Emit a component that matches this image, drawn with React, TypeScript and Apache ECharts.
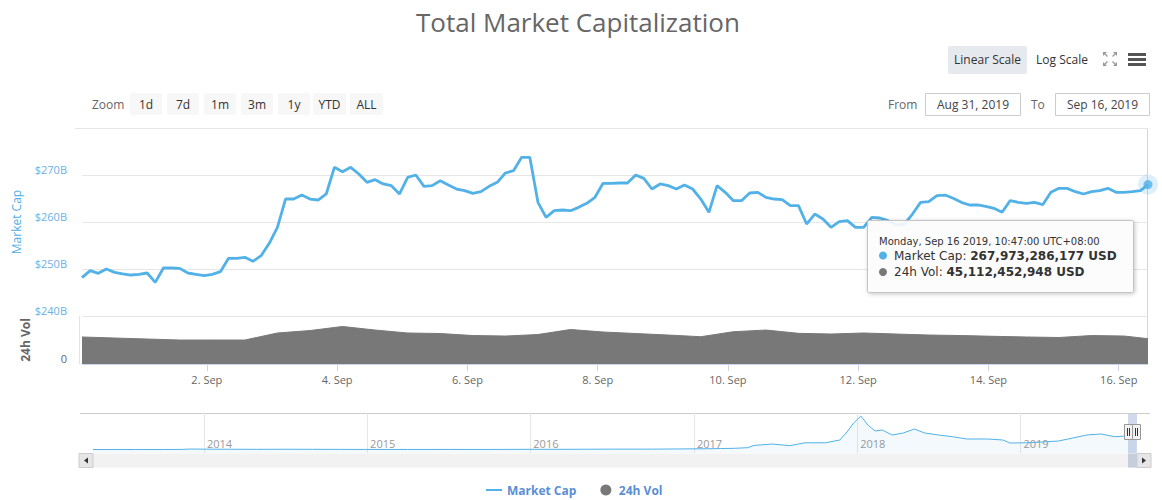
import React, { useEffect, useRef } from "react";
import * as echarts from "echarts";

const FONT = "'Open Sans', 'DejaVu Sans', sans-serif";
const TIP_FONT = "'DejaVu Sans', Verdana, sans-serif";
const HOUR = 3600 * 1000;

// ---- Main pane: total market cap (billions USD), 3-hour steps from Aug 31 02:00 ----
const MCAP_START = Date.UTC(2019, 7, 31, 2, 0);
const MCAP_STEP_HOURS = 3;
const LAST_TIME = Date.UTC(2019, 8, 16, 10, 47);
const MCAP_B = [
  248.16, 249.65, 249.08, 250.0, 249.29, 248.94, 248.72, 248.87, 249.15, 247.16,
  250.21, 250.21, 250.14, 249.15, 248.87, 248.58, 248.87, 249.43, 252.27, 252.27,
  252.48, 251.63, 252.84, 255.46, 258.87, 264.89, 264.89, 265.74, 264.89, 264.68,
  265.96, 271.63, 270.71, 271.63, 270.21, 268.44, 269.01, 268.09, 267.73, 265.96,
  269.5, 270.0, 267.59, 267.73, 268.79, 267.87, 267.02, 266.67, 266.1, 266.45,
  267.59, 268.44, 270.43, 270.92, 273.76, 273.76, 264.18, 260.99, 262.41, 262.55,
  262.41, 263.12, 263.97, 265.25, 268.23, 268.23, 268.3, 268.3, 270.0, 269.29,
  267.02, 268.09, 267.73, 267.02, 267.87, 267.02, 264.89, 262.06, 267.73, 266.31,
  264.54, 264.54, 266.17, 266.31, 265.25, 264.89, 264.75, 263.48, 263.48, 259.57,
  261.7, 260.64, 258.87, 260.07, 260.28, 258.87, 258.87, 260.99, 260.85, 260.28,
  259.36, 259.57, 261.7, 264.18, 264.33, 265.6, 265.74, 265.04, 264.18, 263.62,
  263.62, 263.33, 262.91, 262.06, 264.54, 264.18, 263.97, 264.18, 263.69, 266.31,
  267.16, 267.16, 266.45, 265.96, 266.45, 266.67, 267.16, 266.31, 266.31, 266.45,
  266.67, 267.97,
];

// ---- Volume pane: 24h volume (billions USD), 12-hour steps ----
const VOL_STEP_HOURS = 12;
const VOL_B = [
  48.1, 46.3, 44.5, 42.7, 42.7, 42.7, 55.2, 59.6, 66.8, 60.5, 55.2, 54.3, 50.7,
  49.8, 52.5, 61.4, 57.0, 54.3, 51.6, 48.6, 57.5, 60.5, 54.6, 53.4, 55.2, 53.4,
  51.6, 50.7, 49.3, 48.1, 47.2, 50.7, 49.8, 45.11,
];

// ---- Axis ticks ----
const DAY_TICK_DAYS = [2, 4, 6, 8, 10, 12, 14, 16];
const DAY_TICK_LABELS = ["2. Sep", "4. Sep", "6. Sep", "8. Sep", "10. Sep", "12. Sep", "14. Sep", "16. Sep"];
const MCAP_TICKS = [240, 250, 260, 270, 280];
const MCAP_TICK_LABELS = ["$240B", "$250B", "$260B", "$270B", ""];

// ---- Navigator: full history of market cap (billions USD) ----
const NAV_DATES = [
  "2013-04-28", "2013-06-01", "2013-08-01", "2013-10-01", "2013-11-15", "2013-12-01",
  "2014-01-01", "2014-03-01", "2014-05-01", "2014-07-01", "2014-09-01", "2014-11-01",
  "2015-01-01", "2015-04-01", "2015-07-01", "2015-10-01", "2016-01-01", "2016-04-01",
  "2016-07-01", "2016-10-01", "2017-01-01", "2017-02-01", "2017-03-01", "2017-04-01",
  "2017-05-01", "2017-05-15", "2017-06-25", "2017-08-03", "2017-09-06", "2017-10-22",
  "2017-11-23", "2017-12-09", "2017-12-24", "2018-01-09", "2018-01-25", "2018-02-10",
  "2018-02-26", "2018-03-20", "2018-04-14", "2018-05-09", "2018-06-01", "2018-07-02",
  "2018-08-02", "2018-09-03", "2018-10-20", "2018-11-23", "2018-12-09", "2019-01-23",
  "2019-03-27", "2019-04-28", "2019-05-29", "2019-06-30", "2019-07-31", "2019-08-25",
  "2019-09-16",
];
const NAV_B = [
  1.5, 1.3, 1.3, 1.7, 5, 13,
  10, 8, 6, 8, 6.5, 4.5,
  4, 3.5, 4, 3.5, 6.5, 7,
  11, 10.5, 18, 20, 25, 30,
  45, 98, 131, 92, 160, 160,
  225, 413, 625, 790, 578, 437,
  460, 343, 390, 484, 390, 343,
  303, 249, 249, 225, 155, 162,
  202, 272, 343, 367, 303, 320,
  320,
];
const NAV_YEARS = [2014, 2015, 2016, 2017, 2018, 2019];

// ---- Tooltip content ----
const TIP_TIME_LABEL = "Monday, Sep 16 2019, 10:47:00 UTC+08:00";
const TIP_MCAP_USD = 267973286177;
const TIP_VOL_USD = 45112452948;

const ZOOM_BUTTONS = ["1d", "7d", "1m", "3m", "1y", "YTD", "ALL"];
const FROM_DATE = "Aug 31, 2019";
const TO_DATE = "Sep 16, 2019";

const BLUE = "#52b1e7";
const VOL_GRAY = "#787878";

function textWidth(text: string, font: string) {
  const ctx = document.createElement("canvas").getContext("2d");
  if (!ctx) return text.length * 7;
  ctx.font = font;
  return ctx.measureText(text).width;
}

function buildOption() {
  const mcapData = MCAP_B.map((v, i) => [
    i === MCAP_B.length - 1 ? LAST_TIME : MCAP_START + i * MCAP_STEP_HOURS * HOUR,
    v,
  ]);
  const volData = VOL_B.map((v, i) => [
    i === VOL_B.length - 1 ? LAST_TIME : MCAP_START + i * VOL_STEP_HOURS * HOUR,
    v,
  ]);
  const navData = NAV_DATES.map((d, i) => {
    const [y, m, dd] = d.split("-").map(Number);
    return [Date.UTC(y, m - 1, dd), NAV_B[i]];
  });
  const dayTicks = DAY_TICK_DAYS.map((d) => Date.UTC(2019, 8, d));
  const yearTicks = NAV_YEARS.map((y) => Date.UTC(y, 0, 1));
  const last = mcapData[mcapData.length - 1];

  const g: any[] = [];
  // range selector
  g.push({ type: "text", x: 92, y: 104, style: { text: "Zoom", fill: "#666", font: `12px ${FONT}`, verticalAlign: "middle" } });
  const btnX = [130, 167, 204, 241, 278, 313, 350];
  ZOOM_BUTTONS.forEach((b, k) => {
    const w = b === "ALL" || b === "YTD" ? 33 : 32;
    g.push({ type: "rect", shape: { x: btnX[k], y: 93, width: w, height: 22, r: 2 }, style: { fill: "#f7f7f7" } });
    g.push({
      type: "text", x: btnX[k] + w / 2, y: 104,
      style: { text: b, fill: "#333", font: `12px ${FONT}`, align: "center", verticalAlign: "middle" },
    });
  });
  // scale buttons
  g.push({ type: "rect", shape: { x: 948, y: 46, width: 79, height: 28, r: 2 }, style: { fill: "#e6e9ee" } });
  g.push({ type: "text", x: 987.5, y: 59, style: { text: "Linear Scale", fill: "#333", font: `12px ${FONT}`, align: "center", verticalAlign: "middle" } });
  g.push({ type: "text", x: 1062, y: 59, style: { text: "Log Scale", fill: "#333", font: `12px ${FONT}`, align: "center", verticalAlign: "middle" } });
  // fullscreen icon: four small arrows pointing outward
  const fs = [
    { tip: [1103, 52], dx: 1, dy: 1 },
    { tip: [1117, 52], dx: -1, dy: 1 },
    { tip: [1103, 66], dx: 1, dy: -1 },
    { tip: [1117, 66], dx: -1, dy: -1 },
  ];
  fs.forEach(({ tip, dx, dy }) => {
    g.push({ type: "polygon", shape: { points: [tip, [tip[0] + 4 * dx, tip[1]], [tip[0], tip[1] + 4 * dy]] }, style: { fill: "#999" } });
    g.push({ type: "line", shape: { x1: tip[0] + 1.5 * dx, y1: tip[1] + 1.5 * dy, x2: tip[0] + 4.5 * dx, y2: tip[1] + 4.5 * dy }, style: { stroke: "#999", lineWidth: 1.2 } });
  });
  // hamburger
  [53, 58, 63].forEach((yy) => g.push({ type: "rect", shape: { x: 1128, y: yy, width: 18, height: 3 }, style: { fill: "#555" } }));
  // From / To
  g.push({ type: "text", x: 888, y: 104, style: { text: "From", fill: "#666", font: `12px ${FONT}`, verticalAlign: "middle" } });
  g.push({ type: "rect", shape: { x: 925.5, y: 93.5, width: 95, height: 22 }, style: { fill: "#fff", stroke: "#ccc", lineWidth: 1 } });
  g.push({ type: "text", x: 973, y: 104.5, style: { text: FROM_DATE, fill: "#444", font: `12px ${FONT}`, align: "center", verticalAlign: "middle" } });
  g.push({ type: "text", x: 1031, y: 104, style: { text: "To", fill: "#666", font: `12px ${FONT}`, verticalAlign: "middle" } });
  g.push({ type: "rect", shape: { x: 1055.5, y: 93.5, width: 94, height: 22 }, style: { fill: "#fff", stroke: "#ccc", lineWidth: 1 } });
  g.push({ type: "text", x: 1102.5, y: 104.5, style: { text: TO_DATE, fill: "#444", font: `12px ${FONT}`, align: "center", verticalAlign: "middle" } });
  // top separator
  g.push({ type: "line", shape: { x1: 75, y1: 128.5, x2: 1148, y2: 128.5 }, style: { stroke: "#e6e6e6", lineWidth: 1 } });
  // crosshair
  g.push({ type: "line", shape: { x1: 1147.5, y1: 129, x2: 1147.5, y2: 364 }, style: { stroke: "#ccd6eb", lineWidth: 1 } });
  // navigator outline
  g.push({ type: "line", shape: { x1: 80, y1: 413.5, x2: 1150, y2: 413.5 }, style: { stroke: "#cccccc", lineWidth: 1 } });
  // navigator mask + handles
  g.push({ type: "rect", z: 110, shape: { x: 1128, y: 414, width: 9, height: 39 }, style: { fill: "rgba(102,133,194,0.3)" } });
  [1124.5, 1132.5].forEach((hx) => {
    g.push({ type: "rect", z: 111, shape: { x: hx, y: 424.5, width: 8, height: 15 }, style: { fill: "#f2f2f2", stroke: "#999", lineWidth: 1 } });
    g.push({ type: "line", z: 112, shape: { x1: hx + 3, y1: 428, x2: hx + 3, y2: 436 }, style: { stroke: "#333", lineWidth: 1 } });
    g.push({ type: "line", z: 112, shape: { x1: hx + 5, y1: 428, x2: hx + 5, y2: 436 }, style: { stroke: "#333", lineWidth: 1 } });
  });
  // scrollbar
  g.push({ type: "rect", shape: { x: 79, y: 453.5, width: 1072, height: 14 }, style: { fill: "#f2f2f2" } });
  g.push({ type: "rect", shape: { x: 79, y: 453.5, width: 14, height: 14 }, style: { fill: "#e6e6e6", stroke: "#ccc", lineWidth: 1 } });
  g.push({ type: "rect", shape: { x: 1137, y: 453.5, width: 14, height: 14 }, style: { fill: "#e6e6e6", stroke: "#ccc", lineWidth: 1 } });
  g.push({ type: "polygon", shape: { points: [[84, 460.5], [88, 457.5], [88, 463.5]] }, style: { fill: "#333" } });
  g.push({ type: "polygon", shape: { points: [[1146, 460.5], [1142, 457.5], [1142, 463.5]] }, style: { fill: "#333" } });
  g.push({ type: "rect", shape: { x: 1128, y: 453.5, width: 9, height: 14 }, style: { fill: "#c6cddb" } });

  // tooltip (drawn above everything)
  const normFont = `12px ${TIP_FONT}`;
  const boldFont = `bold 12px ${TIP_FONT}`;
  const mcLabel = "Market Cap: ";
  const volLabel = "24h Vol: ";
  const mcW = textWidth(mcLabel, normFont);
  const volW = textWidth(volLabel, normFont);
  const TX = 867;
  const TY = 220;
  g.push({ type: "rect", z: 200, shape: { x: TX + 0.5, y: TY + 0.5, width: 266, height: 72, r: 2 }, style: { fill: "rgba(255,255,255,0.88)", stroke: "#c4c4c4", lineWidth: 1, shadowBlur: 4, shadowOffsetX: 1, shadowOffsetY: 1, shadowColor: "rgba(0,0,0,0.25)" } });
  g.push({ type: "text", z: 201, x: TX + 12, y: TY + 21, style: { text: TIP_TIME_LABEL, fill: "#333", font: `10px ${TIP_FONT}`, verticalAlign: "middle" } });
  g.push({ type: "circle", z: 201, shape: { cx: TX + 16, cy: TY + 35.5, r: 4 }, style: { fill: BLUE } });
  g.push({ type: "text", z: 201, x: TX + 27, y: TY + 35.5, style: { text: mcLabel, fill: "#333", font: normFont, verticalAlign: "middle" } });
  g.push({ type: "text", z: 201, x: TX + 27 + mcW, y: TY + 35.5, style: { text: `${TIP_MCAP_USD.toLocaleString("en-US")} USD`, fill: "#333", font: boldFont, verticalAlign: "middle" } });
  g.push({ type: "circle", z: 201, shape: { cx: TX + 16, cy: TY + 52, r: 4 }, style: { fill: VOL_GRAY } });
  g.push({ type: "text", z: 201, x: TX + 27, y: TY + 52, style: { text: volLabel, fill: "#333", font: normFont, verticalAlign: "middle" } });
  g.push({ type: "text", z: 201, x: TX + 27 + volW, y: TY + 52, style: { text: `${TIP_VOL_USD.toLocaleString("en-US")} USD`, fill: "#333", font: boldFont, verticalAlign: "middle" } });

  return {
    animation: false,
    backgroundColor: "#fff",
    textStyle: { fontFamily: FONT },
    title: {
      text: "Total Market Capitalization",
      left: 411,
      top: 4,
      textStyle: { fontSize: 26, fontWeight: "normal", color: "#666", fontFamily: FONT },
    },
    legend: {
      top: 479,
      left: 481,
      itemWidth: 16,
      itemHeight: 11,
      itemGap: 24,
      textStyle: { color: "#5b8ed6", fontWeight: "bold", fontSize: 12, fontFamily: FONT },
      data: [
        { name: "Market Cap", icon: "path://M0,0h0.01v11h-0.01z M0,4.5h16v2h-16z" },
        { name: "24h Vol", icon: "circle" },
      ],
    },
    grid: [
      { left: 82, top: 128, width: 1066, height: 188 },
      { left: 82, top: 316, width: 1066, height: 48 },
      { left: 93, top: 413, width: 1043, height: 40 },
    ],
    xAxis: [
      { type: "value", gridIndex: 0, min: MCAP_START, max: LAST_TIME, show: false, splitLine: { show: false } },
      {
        type: "value", gridIndex: 1, min: MCAP_START, max: LAST_TIME,
        axisLine: { show: true, lineStyle: { color: "#ccd6eb" } },
        axisTick: { show: true, length: 7, customValues: dayTicks, lineStyle: { color: "#ccd6eb" } },
        axisLabel: {
          customValues: dayTicks, color: "#666", fontSize: 11, margin: 10, fontFamily: FONT,
          formatter: (v: number) => {
            const k = dayTicks.indexOf(v);
            return k >= 0 ? DAY_TICK_LABELS[k] : "";
          },
        },
        splitLine: { show: false },
      },
      {
        type: "value", gridIndex: 2, min: Date.UTC(2013, 3, 28), max: LAST_TIME,
        axisLine: { show: false },
        axisTick: { show: false, customValues: yearTicks },
        splitLine: { show: true, lineStyle: { color: "#e6e6e6" } },
        axisLabel: {
          customValues: yearTicks, inside: true, align: "left", margin: 4, color: "#999", fontSize: 11, fontFamily: FONT,
          padding: [0, 0, 0, 3],
          formatter: (v: number) => {
            const k = yearTicks.indexOf(v);
            return k >= 0 ? String(NAV_YEARS[k]) : "";
          },
        },
      },
    ],
    yAxis: [
      {
        type: "value", gridIndex: 0, min: 240, max: 280, interval: 10,
        name: "Market Cap", nameLocation: "middle", nameRotate: 90, nameGap: 60,
        nameTextStyle: { color: "#52aee6", fontSize: 12, fontFamily: FONT },
        axisLine: { show: false }, axisTick: { show: false },
        axisLabel: {
          color: "#6cb0e6", fontSize: 11, margin: 15, verticalAlign: "bottom", fontFamily: FONT,
          formatter: (v: number) => {
            const k = MCAP_TICKS.indexOf(v);
            return k >= 0 ? MCAP_TICK_LABELS[k] : "";
          },
        },
        splitLine: { show: true, lineStyle: { color: "#e6e6e6" } },
      },
      {
        type: "value", gridIndex: 1, min: 0, max: 85.5, interval: 85.5, offset: 3,
        name: "24h Vol", nameLocation: "middle", nameRotate: 90, nameGap: 48,
        nameTextStyle: { color: "#666", fontSize: 12, fontWeight: "bold", fontFamily: FONT },
        axisLine: { show: true, lineStyle: { color: "#dfe5ef" } }, axisTick: { show: false },
        axisLabel: {
          color: "#666", fontSize: 11, margin: 12, verticalAlign: "bottom", fontFamily: FONT,
          formatter: (v: number) => (v === 0 ? "0" : ""),
        },
        splitLine: { show: false },
      },
      { type: "value", gridIndex: 2, min: -80, max: 860, show: false, splitLine: { show: false } },
    ],
    series: [
      {
        name: "24h Vol", type: "line", xAxisIndex: 1, yAxisIndex: 1, data: volData,
        showSymbol: false, color: VOL_GRAY, lineStyle: { width: 1, color: VOL_GRAY },
        areaStyle: { color: VOL_GRAY, opacity: 1 }, z: 2,
      },
      {
        name: "Market Cap", type: "line", xAxisIndex: 0, yAxisIndex: 0, data: mcapData,
        showSymbol: false, color: BLUE, lineStyle: { width: 2.8, color: BLUE }, z: 3,
      },
      {
        name: "hover-halo", type: "scatter", xAxisIndex: 0, yAxisIndex: 0, data: [last],
        symbolSize: 20, itemStyle: { color: "rgba(82,177,231,0.25)" }, silent: true, z: 4,
      },
      {
        name: "hover-dot", type: "scatter", xAxisIndex: 0, yAxisIndex: 0, data: [last],
        symbolSize: 9, itemStyle: { color: BLUE }, silent: true, z: 5,
      },
      {
        name: "Navigator", type: "line", xAxisIndex: 2, yAxisIndex: 2, data: navData,
        showSymbol: false, color: BLUE, lineStyle: { width: 1, color: BLUE },
        areaStyle: { color: "rgba(82,177,231,0.1)", origin: "start" }, silent: true,
      },
    ],
    graphic: { elements: g },
  };
}

export default function App() {
  const ref = useRef<HTMLDivElement>(null);
  useEffect(() => {
    if (!ref.current) return;
    const chart = echarts.init(ref.current, null, { renderer: "svg" });
    chart.setOption(buildOption() as any);
    return () => chart.dispose();
  }, []);
  return (
    <div
      ref={ref}
      style={{ position: "absolute", left: 0, top: 0, width: 1162, height: 500, background: "#fff" }}
    />
  );
}
